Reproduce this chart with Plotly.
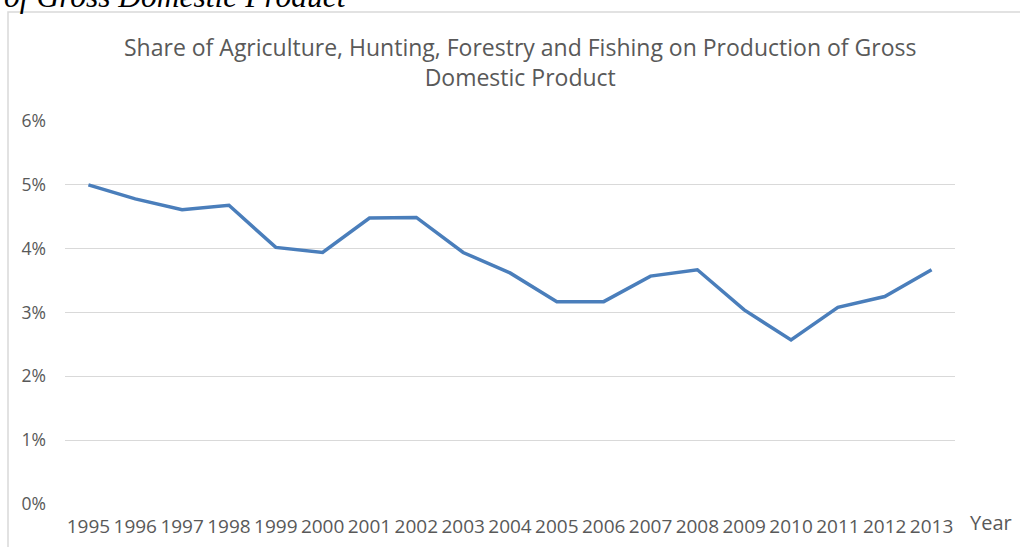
import plotly.graph_objects as go

years = [str(y) for y in range(1995, 2014)]
share = [0.0500, 0.0478, 0.0461, 0.0468, 0.0402, 0.0394, 0.0448, 0.0449, 0.0394,
         0.0362, 0.0317, 0.0317, 0.0357, 0.0367, 0.0304, 0.0257, 0.0308, 0.0325, 0.0367]
y_ticks = [0, 0.01, 0.02, 0.03, 0.04, 0.05, 0.06]
y_tick_labels = ["0%", "1%", "2%", "3%", "4%", "5%", "6%"]

title_text = "Share of Agriculture, Hunting, Forestry and Fishing on Production of Gross<br>Domestic Product"
caption_text = "of Gross Domestic Product"

FONT = "Open Sans"
GRAY = "#595959"

fig = go.Figure()
fig.add_trace(go.Scatter(
    x=years, y=share, mode="lines",
    line=dict(color="#4A7EBB", width=3.5),
    hoverinfo="x+y",
))

fig.update_layout(
    width=1020, height=547,
    margin=dict(l=65, r=65, t=121, b=43, autoexpand=False),
    paper_bgcolor="white", plot_bgcolor="white",
    showlegend=False,
    font=dict(family=FONT, color=GRAY, size=15),
    xaxis=dict(
        type="category", range=[-0.5, 18.5], automargin=False,
        showgrid=False, zeroline=False, showline=False,
        tickfont=dict(family=FONT, size=19, color=GRAY),
        ticklabelstandoff=9,
    ),
    yaxis=dict(
        range=[0, 0.06], tickvals=y_ticks, ticktext=y_tick_labels, automargin=False,
        showgrid=True, gridcolor="#D9D9D9", gridwidth=1,
        zeroline=False, showline=False,
        tickfont=dict(family=FONT, size=17.5, color=GRAY),
        ticklabelstandoff=18,
    ),
    shapes=[dict(
        type="rect", xref="paper", yref="paper",
        x0=(8 - 65) / 890, x1=1.3, y0=-0.5, y1=(504 - 12) / 383,
        line=dict(color="#D9D9D9", width=1.5), fillcolor="rgba(0,0,0,0)",
        layer="below",
    )],
    annotations=[
        dict(text=title_text, xref="paper", yref="paper",
             x=(520 - 65) / 890, y=(504 - 62) / 383, xanchor="center", yanchor="middle",
             showarrow=False, font=dict(family=FONT, size=23, color=GRAY)),
        dict(text="Year", xref="paper", yref="paper",
             x=(991 - 65) / 890, y=(504 - 522) / 383, xanchor="center", yanchor="middle",
             showarrow=False, font=dict(family=FONT, size=20, color=GRAY)),
        dict(text="<i>" + caption_text + "</i>", xref="paper", yref="paper",
             x=(2 - 65) / 890, y=(504 + 3) / 383, xanchor="left", yanchor="middle",
             showarrow=False, font=dict(family="Liberation Serif", size=31.5, color="black")),
    ],
)

fig.write_html("out.html")
